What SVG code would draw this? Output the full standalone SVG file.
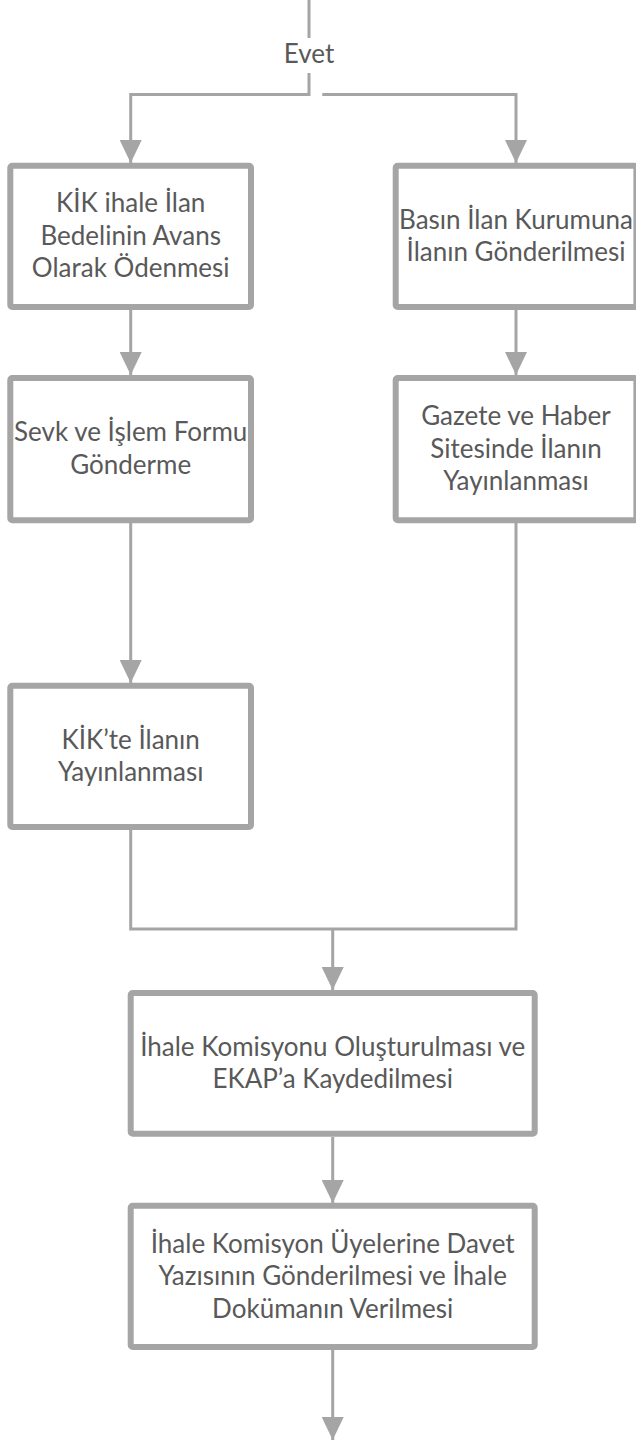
<svg xmlns="http://www.w3.org/2000/svg" width="636" height="1443" viewBox="0 0 636 1443">
<style>
.box{fill:#FFFFFF;stroke:#A5A5A5;stroke-width:6}
.lbl{font-family:Lato,"Liberation Sans",sans-serif;font-size:26px;fill:#595959;text-anchor:middle}
.ln{fill:none;stroke:#A5A5A5;stroke-width:3}
</style>
<defs>
<marker id="ah" markerUnits="userSpaceOnUse" markerWidth="24" markerHeight="22" viewBox="0 0 24 22" refX="23" refY="11" orient="auto">
<path d="M0,0 L23,11 L0,22 Z" fill="#A5A5A5"/>
</marker>
</defs>
<rect width="636" height="1443" fill="#FFFFFF"/>
<g id="connectors">
<line class="ln" x1="309" y1="0" x2="309" y2="38"/>
<polyline class="ln" points="309,73 309,94.5 130.7,94.5 130.7,163" marker-end="url(#ah)"/>
<polyline class="ln" points="322.3,94.5 516,94.5 516,163" marker-end="url(#ah)"/>
<line class="ln" x1="130.7" y1="310" x2="130.7" y2="375" marker-end="url(#ah)"/>
<line class="ln" x1="516" y1="310" x2="516" y2="375" marker-end="url(#ah)"/>
<line class="ln" x1="130.7" y1="523" x2="130.7" y2="683" marker-end="url(#ah)"/>
<polyline class="ln" points="130.7,830 130.7,929 516,929 516,523"/>
<line class="ln" x1="332.7" y1="929" x2="332.7" y2="990" marker-end="url(#ah)"/>
<line class="ln" x1="332.7" y1="1137" x2="332.7" y2="1203" marker-end="url(#ah)"/>
<line class="ln" x1="332.7" y1="1350" x2="332.7" y2="1440" marker-end="url(#ah)"/>
<text class="lbl" x="309" y="63.3">Evet</text>
</g>
<g id="n1">
<rect class="box" x="10.3" y="165.7" width="240.7" height="141.3" rx="2"/>
<text class="lbl" x="130.7" y="212">KİK ihale İlan</text>
<text class="lbl" x="130.7" y="244.5">Bedelinin Avans</text>
<text class="lbl" x="130.7" y="277">Olarak Ödenmesi</text>
</g>
<g id="n2">
<rect class="box" x="395.7" y="165.7" width="240.7" height="141.3" rx="2"/>
<text class="lbl" x="516" y="228.5">Basın İlan Kurumuna</text>
<text class="lbl" x="516" y="261">İlanın Gönderilmesi</text>
</g>
<g id="n3">
<rect class="box" x="10.3" y="378" width="240.7" height="142.3" rx="2"/>
<text class="lbl" x="130.7" y="441">Sevk ve İşlem Formu</text>
<text class="lbl" x="130.7" y="473.5">Gönderme</text>
</g>
<g id="n4">
<rect class="box" x="395.7" y="378" width="240.7" height="142.3" rx="2"/>
<text class="lbl" x="516" y="425">Gazete ve Haber</text>
<text class="lbl" x="516" y="457.5">Sitesinde İlanın</text>
<text class="lbl" x="516" y="490">Yayınlanması</text>
</g>
<g id="n5">
<rect class="box" x="10.3" y="685.7" width="240.7" height="141.3" rx="2"/>
<text class="lbl" x="130.7" y="748.5">KİK’te İlanın</text>
<text class="lbl" x="130.7" y="781">Yayınlanması</text>
</g>
<g id="n6">
<rect class="box" x="130.7" y="993" width="404" height="140.7" rx="2"/>
<text class="lbl" x="332.7" y="1055.5">İhale Komisyonu Oluşturulması ve</text>
<text class="lbl" x="332.7" y="1088">EKAP’a Kaydedilmesi</text>
</g>
<g id="n7">
<rect class="box" x="130.7" y="1205.7" width="404" height="141.3" rx="2"/>
<text class="lbl" x="332.7" y="1252.5">İhale Komisyon Üyelerine Davet</text>
<text class="lbl" x="332.7" y="1285">Yazısının Gönderilmesi ve İhale</text>
<text class="lbl" x="332.7" y="1317.5">Dokümanın Verilmesi</text>
</g>
</svg>
